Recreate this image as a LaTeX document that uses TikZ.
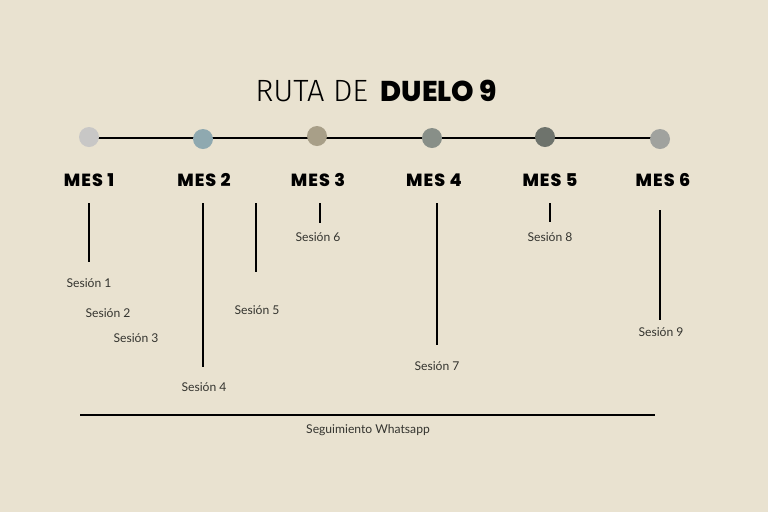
\documentclass[tikz,border=0pt]{standalone}
\usepackage{fontspec}
\setmainfont{Lato}
\newfontfamily\titlelight{Fira Sans Light}
\newfontfamily\titleheavy{Poppins ExtraBold}
\newfontfamily\mesfont[LetterSpace=6]{Poppins ExtraBold}
\definecolor{paper}{HTML}{E9E2D0}
\definecolor{dotA}{HTML}{C8C7C6}
\definecolor{dotB}{HTML}{8FA9B0}
\definecolor{dotC}{HTML}{A89F88}
\definecolor{dotD}{HTML}{888F88}
\definecolor{dotE}{HTML}{6E736C}
\definecolor{dotF}{HTML}{A0A29E}
\definecolor{ink}{HTML}{34342F}
\tikzset{
  mes/.style={font=\mesfont\fontsize{10}{12}\selectfont},
  sesion/.style={font=\fontsize{6.9}{8}\selectfont, text=ink},
}
\begin{document}
\begin{tikzpicture}[x=0.02cm, y=-0.02cm, line width=0.9pt]
  \useasboundingbox[fill=paper] (0,0) rectangle (768,512);
  \node[anchor=east, inner sep=0pt] (titA) at (369,91) {\titlelight\fontsize{17.5}{20}\selectfont RUTA DE};
  \node[anchor=west, inner sep=0pt] (titB) at (380,91) {\titleheavy\fontsize{16.3}{20}\selectfont DUELO 9};
  % linea de meses
  \coordinate (l0) at (89,138);
  \coordinate (l1) at (660,138);
  \draw (l0) -- (l1);
  \fill[dotA] (89,137) circle (10);
  \fill[dotB] (203,139) circle (10);
  \fill[dotC] (317,136) circle (10);
  \fill[dotD] (432,138) circle (10);
  \fill[dotE] (545,137) circle (10);
  \fill[dotF] (660,139) circle (10);
  \node[mes] (mes1) at (89,180) {MES 1};
  \node[mes] (mes2) at (204,180) {MES 2};
  \node[mes] (mes3) at (318,180) {MES 3};
  \node[mes] (mes4) at (434,180) {MES 4};
  \node[mes] (mes5) at (550,180) {MES 5};
  \node[mes] (mes6) at (663,180) {MES 6};
  % sesiones
  \node[sesion] (s1) at (89,283) {Sesión 1};
  \node[sesion] (s2) at (108,313) {Sesión 2};
  \node[sesion] (s3) at (136,338) {Sesión 3};
  \node[sesion] (s4) at (204,387) {Sesión 4};
  \node[sesion] (s5) at (257,310) {Sesión 5};
  \node[sesion] (s6) at (318,237) {Sesión 6};
  \node[sesion] (s7) at (437,366) {Sesión 7};
  \node[sesion] (s8) at (550,237) {Sesión 8};
  \node[sesion] (s9) at (661,332) {Sesión 9};
  \coordinate (a1) at (89,203);  \coordinate (b1) at (89,262);
  \coordinate (a2) at (203,203); \coordinate (b2) at (203,367);
  \coordinate (a3) at (256,203); \coordinate (b3) at (256,272);
  \coordinate (a4) at (320,203); \coordinate (b4) at (320,223);
  \coordinate (a5) at (437,203); \coordinate (b5) at (437,345);
  \coordinate (a6) at (550,203); \coordinate (b6) at (550,222);
  \coordinate (a7) at (660,210); \coordinate (b7) at (660,320);
  \foreach \i in {1,...,7} \draw (a\i) -- (b\i);
  % seguimiento
  \coordinate (w0) at (80,415);
  \coordinate (w1) at (655,415);
  \draw (w0) -- (w1);
  \node[sesion] (wa) at (368,430) {Seguimiento Whatsapp};
\end{tikzpicture}
\end{document}
